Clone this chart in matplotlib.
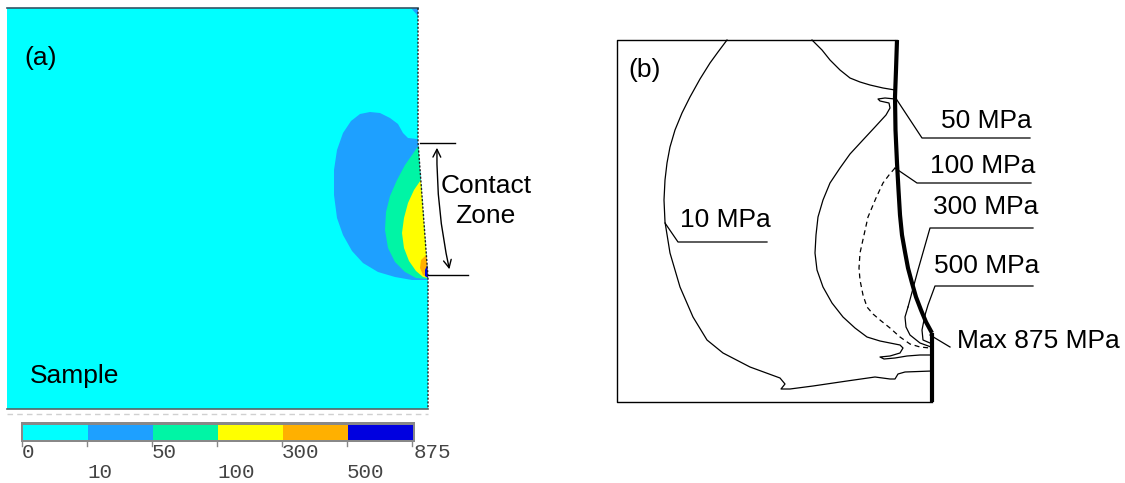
import matplotlib.pyplot as plt
import numpy as np

plt.rcParams['font.family'] = ['Liberation Sans', 'DejaVu Sans']

# colour scale of panel (a)
levels = [0, 10, 50, 100, 300, 500, 875]
level_colors = ['#00ffff', '#1ea0ff', '#00f5a5', '#ffff00', '#ffb000', '#0000e0']

# panel (a): sample outline and stress zones (image pixel coords)
sample_outline = [(7, 8), (418, 8), (418, 142), (428, 277), (428, 409), (7, 409)]
zone_10 = [(418, 142), (417, 139), (408, 138), (403, 133), (398, 124), (390, 118), (380, 113),
           (370, 112), (360, 114), (351, 121), (343, 133), (337, 150), (334, 170), (334, 195),
           (337, 218), (343, 235), (352, 251), (363, 263), (378, 272), (395, 277), (412, 280),
           (428, 280), (428, 277)]
zone_50 = [(418.3, 146), (412, 155), (405, 165), (397, 180), (390, 196), (386, 212), (385, 230),
           (388, 248), (395, 262), (405, 272), (416, 278), (428, 279), (428, 277)]
zone_100 = [(420.8, 180), (414, 190), (408, 203), (404, 218), (402, 233), (404, 248), (409, 261),
            (416, 271), (423, 277), (428, 278), (428, 277)]
zone_300 = [(426.4, 255), (421, 260), (420, 268), (423, 275), (428, 278), (428, 277)]
zone_500 = [(427.2, 265), (425, 270), (425, 276), (428, 278), (428, 277)]
corner_10 = [(411, 8), (418, 8), (418, 16)]
zones_a = [zone_10, zone_50, zone_100, zone_300, zone_500]

# panel (b): iso-stress contour lines
box_b = [(897, 40), (617, 40), (617, 402), (932, 402)]
contact_edge = [(897, 40), (896, 70), (895, 97), (895.5, 130), (897, 163), (898.5, 190),
                (900, 215), (902, 235), (905, 252), (908, 268), (912, 283), (916, 297),
                (921, 310), (926, 322), (932, 333)]
contact_flat = [(932, 333), (932, 402)]
line_10 = [(727, 40), (718, 52), (710, 63), (700, 79), (690, 97), (682, 113), (675, 130),
           (670, 147), (667, 163), (665, 180), (664, 200), (665, 222), (670, 253), (680, 287),
           (693, 317), (707, 340), (723, 353), (750, 367), (780, 378), (785, 384), (781, 389),
           (790, 389), (813, 386), (847, 381), (875, 377), (890, 379), (895, 379), (898, 374),
           (905, 372), (932, 371)]
line_50_top = [(812, 40), (822, 50), (830, 60), (840, 70), (850, 78), (860, 82), (870, 85),
               (883, 88), (895, 90)]
line_50 = [(895, 99), (885, 98), (878, 99), (880, 101), (889, 103), (890, 108), (886, 115),
           (875, 127), (862, 141), (850, 154), (840, 168), (830, 183), (823, 200), (818, 217),
           (816, 235), (815, 253), (817, 270), (823, 287), (832, 303), (843, 317), (855, 328),
           (867, 337), (880, 341), (890, 343), (900, 345), (903, 348), (900, 353), (890, 356),
           (880, 357), (884, 359), (895, 358), (907, 356), (920, 355), (932, 355)]
line_100 = [(895, 168), (889, 175), (883, 183), (876, 198), (868, 217), (864, 235), (860, 253),
            (859, 268), (860, 280), (863, 295), (867, 307), (873, 314), (880, 320), (890, 328),
            (900, 337), (910, 344), (920, 347), (930, 348)]
line_300 = [(908, 307), (905, 317), (906, 327), (910, 335), (920, 343), (931, 347)]
line_500 = [(925, 315), (922, 330), (923, 340), (930, 343)]

# labels of panel (b): text, leader polyline, text x, baseline
label_text = ['10 MPa', '50 MPa', '100 MPa', '300 MPa', '500 MPa', 'Max 875 MPa']
label_leaders = [[(665, 223), (678, 242), (767, 242)],
                 [(895, 97), (922, 138), (1030, 138)],
                 [(895, 168), (917, 183), (1031, 183)],
                 [(908, 307), (918, 270), (930, 228), (1033, 228)],
                 [(925, 315), (928, 305), (935, 286), (1033, 286)],
                 [(930, 335), (950, 347)]]
label_x = [680, 941, 930, 933, 934, 957]
label_y = [227, 128, 173, 214, 273, 348]


def xy(pts):
    a = np.array(pts, dtype=float)
    return a[:, 0], a[:, 1]


fig = plt.figure(figsize=(11.25, 4.83), dpi=100)
ax = fig.add_axes([0, 0, 1, 1])
ax.set_xlim(0, 1125)
ax.set_ylim(483, 0)
ax.axis('off')

# ---- panel (a) ----
ax.fill(*xy(sample_outline), color=level_colors[0], lw=0)
for zone, c in zip(zones_a, level_colors[1:]):
    ax.fill(*xy(zone), color=c, lw=0)
ax.fill(*xy(corner_10), color=level_colors[1], lw=0)

ax.plot([7, 418], [8, 8], color='#335566', lw=1.2)
ax.plot([7, 428], [409, 409], color='#556666', lw=1.2)
ax.plot([7, 428], [414, 414], color='#d0d0d0', lw=1, ls=(0, (4, 3)))
bx, by = xy(sample_outline[1:5])
ax.plot(bx, by, color='#222222', lw=1, ls=(0, (1.5, 1.2)))

# contact zone marker
ax.plot([420, 455], [143, 143], color='black', lw=1)
ax.plot([428, 468], [275, 275], color='black', lw=1)
ax.annotate('', xy=(437, 145), xytext=(450, 272),
            arrowprops=dict(arrowstyle='<->', color='black', lw=1,
                            connectionstyle='arc3,rad=-0.06', mutation_scale=14))
ax.text(486, 193, 'Contact', fontsize=19, ha='center', va='baseline')
ax.text(485, 223, 'Zone', fontsize=19, ha='center', va='baseline')
ax.text(24, 65, '(a)', fontsize=19, va='baseline')
ax.text(30, 383, 'Sample', fontsize=19, va='baseline')

# colour bar
cb_x0, cb_w = 23, 65
ax.add_patch(plt.Rectangle((21, 422), 394, 20, color='#888888', lw=0))
for i, c in enumerate(level_colors):
    ax.add_patch(plt.Rectangle((cb_x0 + i * cb_w, 424.5), cb_w, 15, color=c, lw=0))
for i, lv in enumerate(levels):
    xb = cb_x0 - 1 + i * cb_w
    ax.plot([xb, xb], [442, 446], color='#888888', lw=1)
    ty = 453 if i % 2 == 0 else 473
    ax.text(xb + (2 if i == len(levels) - 1 else 0), ty, str(lv), fontsize=15,
            family='Liberation Mono', color='#444444', ha='left', va='center')

# ---- panel (b) ----
ax.plot(*xy(box_b), color='black', lw=1)
ax.plot(*xy(contact_edge), color='black', lw=3, solid_capstyle='butt')
ax.plot(*xy(contact_flat), color='black', lw=3, solid_capstyle='butt')
for line in [line_10, line_50_top, line_50, line_300, line_500]:
    ax.plot(*xy(line), color='black', lw=0.9)
ax.plot(*xy(line_100), color='black', lw=0.9, ls=(0, (4, 3)))
for txt, lead, tx, ty in zip(label_text, label_leaders, label_x, label_y):
    ax.plot(*xy(lead), color='black', lw=0.9)
    ax.text(tx, ty, txt, fontsize=19, ha='left', va='baseline')
ax.text(628, 77, '(b)', fontsize=19, va='baseline')

plt.savefig('out.png', dpi=100)
